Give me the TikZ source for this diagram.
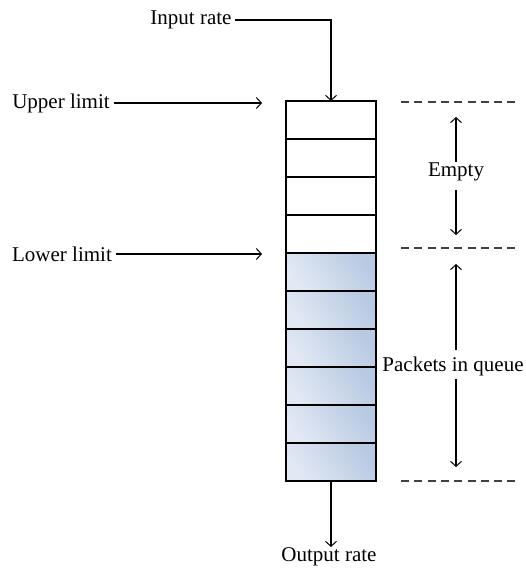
\documentclass[tikz,border=0pt]{standalone}
\usepackage{fontspec}
\setmainfont{Liberation Serif}
\usetikzlibrary{arrows.meta}

\definecolor{qlight}{RGB}{226,233,244}
\definecolor{qdark}{RGB}{184,201,226}

\begin{document}
\begin{tikzpicture}[x=1pt,y=-1pt,
  lbl/.style={font=\fontsize{21}{24}\selectfont, inner sep=0pt},
  cell/.style={draw, line width=1.1pt, minimum width=90pt, minimum height=38pt,
               inner sep=0pt, outer sep=0pt},
  emptycell/.style={cell, fill=white},
  fullcell/.style={cell, left color=qlight, right color=qdark, shading angle=125},
  tip/.style={-{Straight Barb[length=5pt,width=11pt,line width=1pt]}},
  feed/.style={tip, line width=1.2pt},
  limit/.style={tip, line width=1.9pt},
  span/.style={tip, line width=1.4pt},
  level/.style={line width=1.3pt, dash pattern=on 8pt off 5.3pt, black!75},
]
\useasboundingbox (0,0) rectangle (525,569);

% queue of ten slots: four free on top, six holding packets below
\foreach \k in {1,...,4}
  \node[emptycell] (c\k) at (331,{82+38*\k}) {};
\foreach \k in {5,...,10}
  \node[fullcell] (c\k) at (331,{82+38*\k}) {};
\foreach \k in {1,...,10}
  \draw[line width=1.1pt] (c\k.north west) rectangle (c\k.south east);

% input
\node[lbl, inner xsep=3pt] (in) at (191,20) {Input rate};
\draw[feed] (in.east) -| (c1.north);

% limits
\node[lbl, inner xsep=4pt] (up) at (61,103) {Upper limit};
\coordinate (upx) at (262,103);
\draw[limit] (up.east) -- (upx);

\node[lbl, inner xsep=4pt] (lo) at (62,254) {Lower limit};
\coordinate (lox) at (262,254);
\draw[limit] (lo.east) -- (lox);

% level marks
\coordinate (m1a) at (401,102); \coordinate (m1b) at (516,102);
\coordinate (m2a) at (401,248); \coordinate (m2b) at (516,248);
\coordinate (m3a) at (401,481); \coordinate (m3b) at (516,481);
\draw[level] (m1a) -- (m1b);
\draw[level] (m2a) -- (m2b);
\draw[level] (m3a) -- (m3b);

% free space span
\node[lbl] (em) at (456,172) {Empty};
\coordinate (em0) at (456,162);
\coordinate (em1) at (456,117);
\coordinate (em3) at (456,190);
\coordinate (em2) at (456,235);
\draw[span] (em0) -- (em1);
\draw[span] (em3) -- (em2);

% queued packets span
\node[lbl] (pq) at (453,366) {Packets in queue};
\coordinate (pq0) at (456,350);
\coordinate (pq1) at (456,264);
\coordinate (pq3) at (456,379);
\coordinate (pq2) at (456,467);
\draw[feed] (pq0) -- (pq1);
\draw[feed] (pq3) -- (pq2);

% output
\node[lbl] (out) at (329,557) {Output rate};
\coordinate (outx) at (331,547);
\draw[span] (c10.south) -- (outx);
\end{tikzpicture}
\end{document}
